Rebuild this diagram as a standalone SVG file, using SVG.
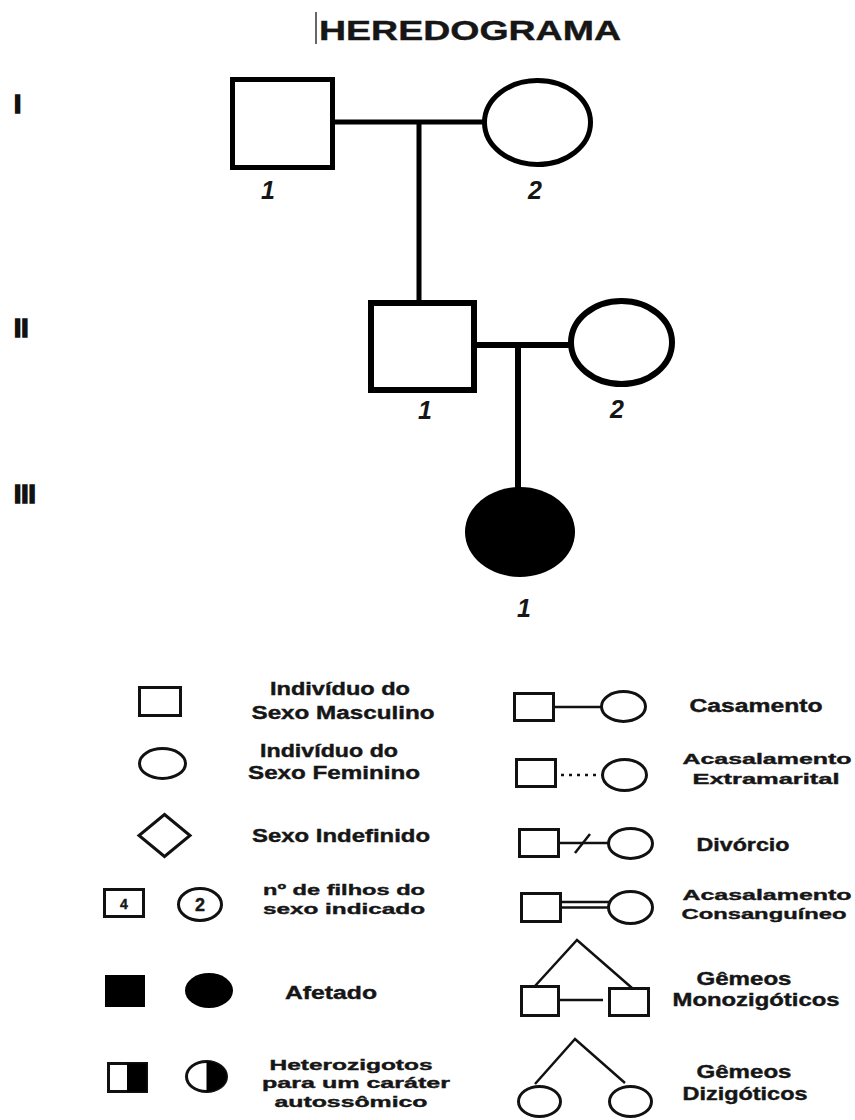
<svg xmlns="http://www.w3.org/2000/svg" width="855" height="1120" viewBox="0 0 855 1120">
  <style>
    .t { font-family: "Liberation Sans", Arial, sans-serif; font-weight: bold; fill: #161616; stroke: #161616; stroke-width: 0.4; text-anchor: middle; }
    .lg { font-size: 18px; }
    .sm { font-size: 15.5px; }
    .num { font-family: "Liberation Sans", Arial, sans-serif; font-weight: bold; font-style: italic; font-size: 25px; fill: #161616; text-anchor: middle; }
    .gen { font-family: "Liberation Sans", Arial, sans-serif; font-weight: bold; font-size: 26px; fill: #111; stroke: #111; stroke-width: 1.6; }
    .big { fill: #fff; stroke: #000; stroke-width: 5; }
    .big2 { fill: #fff; stroke: #000; stroke-width: 6; }
    .sym { fill: #fff; stroke: #111; stroke-width: 3; }
    .ln { fill: none; stroke: #000; stroke-width: 5; }
    .ln2 { fill: none; stroke: #000; stroke-width: 6; }
    .sl { fill: none; stroke: #111; stroke-width: 2.5; }
  </style>

  <rect width="855" height="1120" fill="#fff"/>

  <!-- title -->
  <g id="title">
    <line x1="316" y1="12" x2="316" y2="44" stroke="#333" stroke-width="1.5"/>
    <text class="t" x="470" y="40" font-size="28" textLength="302" lengthAdjust="spacingAndGlyphs">HEREDOGRAMA</text>
  </g>

  <!-- generation numerals -->
  <g id="generations">
    <text class="gen" x="14" y="113">I</text>
    <text class="gen" x="14" y="337">II</text>
    <text class="gen" x="14" y="503">III</text>
  </g>

  <!-- pedigree connectors -->
  <g id="connectors">
    <line class="ln" x1="333" y1="122" x2="484" y2="122"/>
    <line class="ln" x1="419" y1="122" x2="419" y2="302"/>
    <line class="ln2" x1="474" y1="345" x2="570" y2="345"/>
    <line class="ln2" x1="518" y1="345" x2="518" y2="490"/>
  </g>

  <!-- generation I -->
  <g id="I-1">
    <rect class="big" x="232.5" y="79.5" width="100" height="88"/>
    <text class="num" x="268" y="199">1</text>
  </g>
  <g id="I-2">
    <ellipse class="big" cx="537.5" cy="122.5" rx="53" ry="42"/>
    <text class="num" x="535" y="199">2</text>
  </g>

  <!-- generation II -->
  <g id="II-1">
    <rect class="big2" x="371" y="303" width="103" height="87"/>
    <text class="num" x="425" y="419">1</text>
  </g>
  <g id="II-2">
    <ellipse class="big2" cx="621.5" cy="342.5" rx="50.5" ry="41.5"/>
    <text class="num" x="617" y="418">2</text>
  </g>

  <!-- generation III -->
  <g id="III-1">
    <ellipse cx="520" cy="532" rx="55" ry="45" fill="#000"/>
    <text class="num" x="524" y="617">1</text>
  </g>

  <!-- legend, left column -->
  <g id="legend-male">
    <rect class="sym" x="139.5" y="687.5" width="41" height="28"/>
    <text class="t lg" x="340" y="695" textLength="140" lengthAdjust="spacingAndGlyphs">Indivíduo do</text>
    <text class="t lg" x="343" y="719" textLength="183" lengthAdjust="spacingAndGlyphs">Sexo Masculino</text>
  </g>
  <g id="legend-female">
    <ellipse class="sym" cx="162.5" cy="763.5" rx="23" ry="15"/>
    <text class="t lg" x="329" y="757" textLength="138" lengthAdjust="spacingAndGlyphs">Indivíduo do</text>
    <text class="t lg" x="334" y="779" textLength="172" lengthAdjust="spacingAndGlyphs">Sexo Feminino</text>
  </g>
  <g id="legend-undefined">
    <polygon class="sym" points="164.5,814.5 190,835.5 164.5,856.5 139,835.5"/>
    <text class="t lg" x="341" y="842" textLength="178" lengthAdjust="spacingAndGlyphs">Sexo Indefinido</text>
  </g>
  <g id="legend-count">
    <rect class="sym" x="104.5" y="889.5" width="39" height="27"/>
    <text class="t" x="124" y="909" font-size="14">4</text>
    <ellipse class="sym" cx="200" cy="904.5" rx="21.5" ry="16"/>
    <text class="t" x="200" y="911" font-size="18">2</text>
    <text class="t sm" x="344" y="895" textLength="162" lengthAdjust="spacingAndGlyphs">nº de filhos do</text>
    <text class="t sm" x="344" y="914" textLength="162" lengthAdjust="spacingAndGlyphs">sexo indicado</text>
  </g>
  <g id="legend-affected">
    <rect x="105" y="975" width="40" height="32" fill="#000"/>
    <ellipse cx="209" cy="990.5" rx="24" ry="17.5" fill="#000"/>
    <text class="t lg" x="331" y="999" textLength="92" lengthAdjust="spacingAndGlyphs">Afetado</text>
  </g>
  <g id="legend-heterozygote">
    <rect class="sym" x="108.5" y="1063.5" width="38" height="28"/>
    <rect x="127" y="1063.5" width="19.5" height="28" fill="#000"/>
    <ellipse class="sym" cx="206.5" cy="1076.5" rx="20" ry="15"/>
    <path d="M206.5,1061.5 A20,15 0 0 1 206.5,1091.5 Z" fill="#000"/>
    <text class="t sm" x="351" y="1070" textLength="163" lengthAdjust="spacingAndGlyphs">Heterozigotos</text>
    <text class="t sm" x="356" y="1088" textLength="188" lengthAdjust="spacingAndGlyphs">para um caráter</text>
    <text class="t sm" x="351" y="1107" textLength="153" lengthAdjust="spacingAndGlyphs">autossômico</text>
  </g>

  <!-- legend, right column -->
  <g id="legend-marriage">
    <line class="sl" x1="554" y1="707" x2="602" y2="707"/>
    <rect class="sym" x="514.5" y="693.5" width="39" height="27"/>
    <ellipse class="sym" cx="623.5" cy="706.5" rx="22" ry="15"/>
    <text class="t lg" x="756" y="712" textLength="133" lengthAdjust="spacingAndGlyphs">Casamento</text>
  </g>
  <g id="legend-extramarital">
    <line class="sl" x1="561" y1="775" x2="601" y2="775" stroke-width="3" stroke-dasharray="3 5"/>
    <rect class="sym" x="516.5" y="759.5" width="39" height="27"/>
    <ellipse class="sym" cx="624.5" cy="775" rx="22" ry="15.5"/>
    <text class="t sm" x="767" y="764" textLength="169" lengthAdjust="spacingAndGlyphs">Acasalamento</text>
    <text class="t sm" x="766" y="784" textLength="147" lengthAdjust="spacingAndGlyphs">Extramarital</text>
  </g>
  <g id="legend-divorce">
    <line class="sl" x1="559" y1="843" x2="609" y2="843"/>
    <line class="sl" x1="575" y1="853" x2="590" y2="834" stroke-width="3"/>
    <rect class="sym" x="519.5" y="829.5" width="39" height="27"/>
    <ellipse class="sym" cx="630.5" cy="843.5" rx="22" ry="15"/>
    <text class="t lg" x="743" y="851" textLength="93" lengthAdjust="spacingAndGlyphs">Divórcio</text>
  </g>
  <g id="legend-consanguineous">
    <line class="sl" x1="561" y1="902" x2="610" y2="902" stroke-width="2"/>
    <line class="sl" x1="561" y1="907.5" x2="610" y2="907.5" stroke-width="2"/>
    <rect class="sym" x="521.5" y="893.5" width="39" height="28"/>
    <ellipse class="sym" cx="630.5" cy="907.5" rx="22" ry="16"/>
    <text class="t sm" x="767" y="900" textLength="169" lengthAdjust="spacingAndGlyphs">Acasalamento</text>
    <text class="t sm" x="764" y="919" textLength="165" lengthAdjust="spacingAndGlyphs">Consanguíneo</text>
  </g>
  <g id="legend-monozygotic">
    <polyline class="sl" points="535,986 577,940 632,988" stroke-width="3"/>
    <line class="sl" x1="559" y1="1000" x2="603" y2="1000"/>
    <rect class="sym" x="521.5" y="986.5" width="37" height="29"/>
    <rect class="sym" x="609.5" y="988.5" width="39" height="27"/>
    <text class="t lg" x="744" y="985" textLength="95" lengthAdjust="spacingAndGlyphs">Gêmeos</text>
    <text class="t lg" x="756" y="1006" textLength="167" lengthAdjust="spacingAndGlyphs">Monozigóticos</text>
  </g>
  <g id="legend-dizygotic">
    <polyline class="sl" points="535,1084 575,1039 625,1083" stroke-width="3"/>
    <ellipse class="sym" cx="539.5" cy="1101.5" rx="21" ry="15"/>
    <ellipse class="sym" cx="630.5" cy="1101.5" rx="21" ry="15"/>
    <text class="t lg" x="744" y="1078" textLength="95" lengthAdjust="spacingAndGlyphs">Gêmeos</text>
    <text class="t lg" x="745" y="1100" textLength="125" lengthAdjust="spacingAndGlyphs">Dizigóticos</text>
  </g>
</svg>
